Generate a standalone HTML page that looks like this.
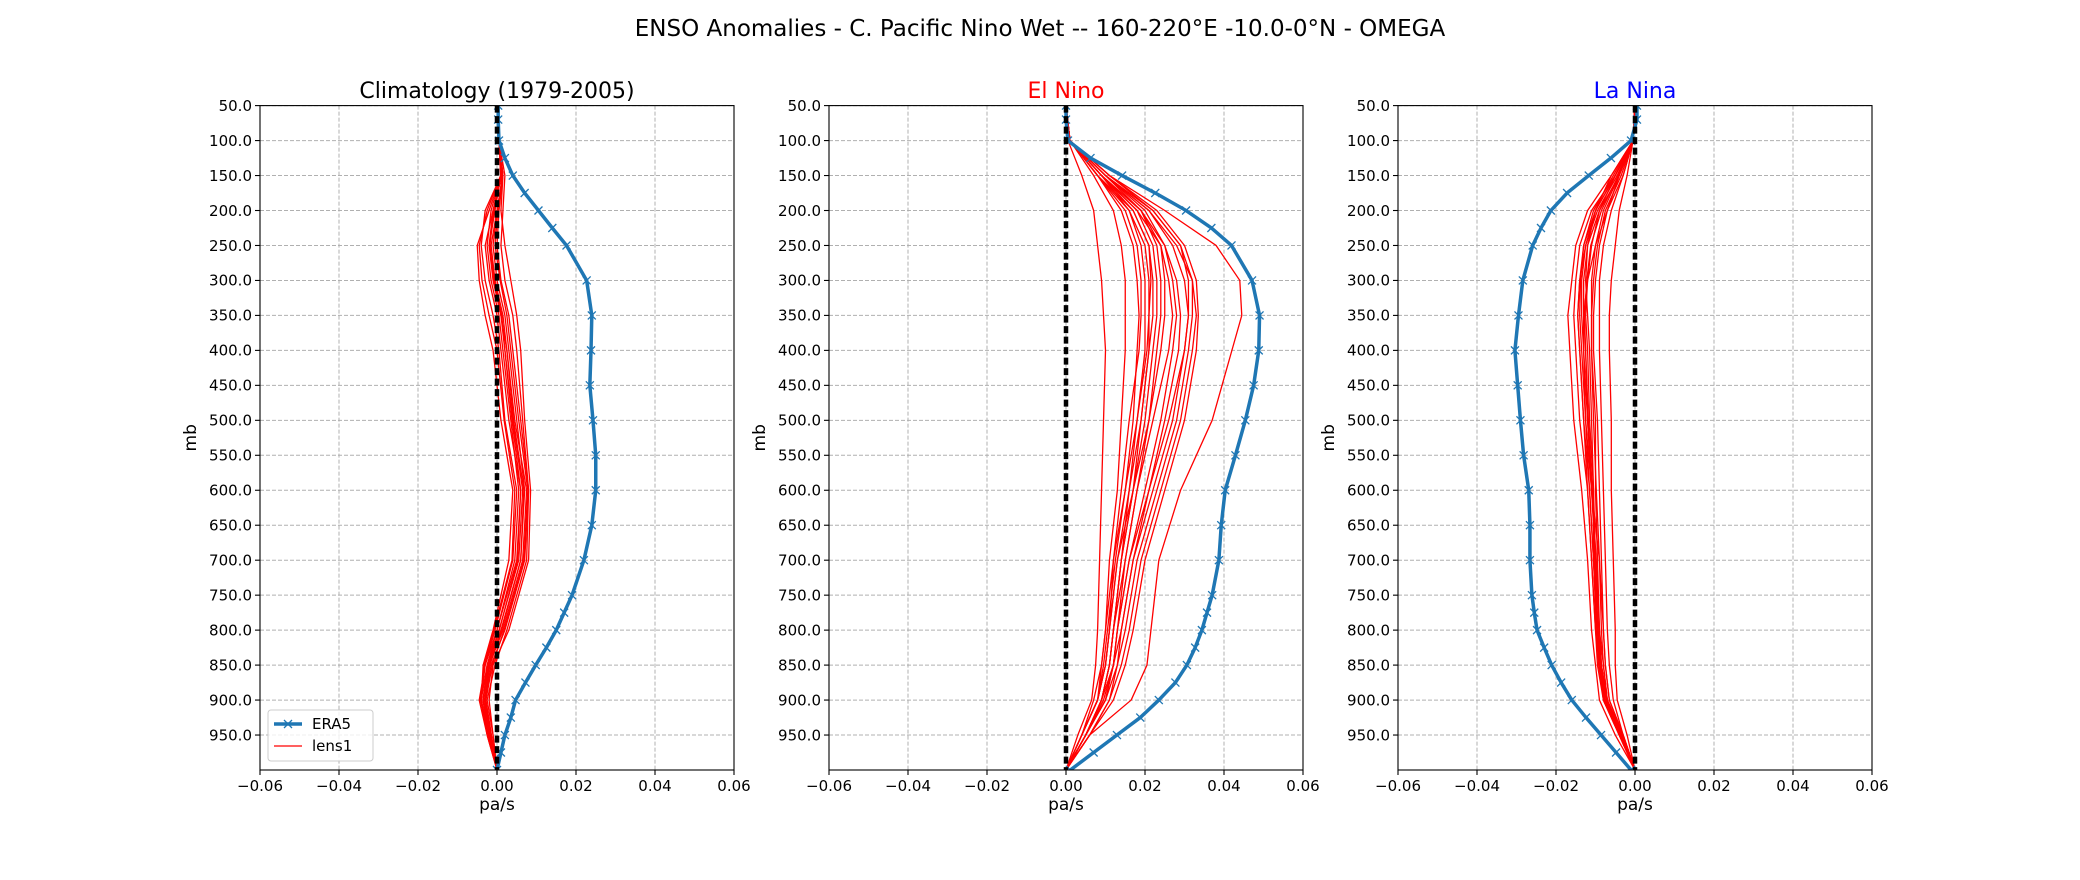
<!DOCTYPE html>
<html><head><meta charset="utf-8"><style>
html,body{margin:0;padding:0;background:#fff;}
svg{display:block;font-family:"DejaVu Sans","Liberation Sans",sans-serif;}
</style></head><body>
<svg id="fig" width="2080" height="880" viewBox="0 0 2080 880" xmlns="http://www.w3.org/2000/svg">
<rect width="2080" height="880" fill="#fff"/>
<text x="1040" y="36" font-size="23" text-anchor="middle" fill="#000">ENSO Anomalies - C. Pacific Nino Wet -- 160-220°E -10.0-0°N - OMEGA</text>
</svg>
<script>
const era5Levels=[50,70,100,125,150,175,200,225,250,300,350,400,450,500,550,600,650,700,750,775,800,825,850,875,900,925,950,975,1000];
const era5Clim=[0.0003,0.0003,0.0005,0.002,0.004,0.007,0.0105,0.014,0.0176,0.0227,0.024,0.0238,0.0235,0.0243,0.025,0.025,0.024,0.022,0.019,0.017,0.015,0.0125,0.0098,0.0072,0.0047,0.0035,0.002,0.001,0];
const era5Nino=[0,0,0.0005,0.0062,0.0142,0.0226,0.0304,0.0368,0.0419,0.0471,0.049,0.0488,0.0475,0.0454,0.0429,0.0403,0.0393,0.0387,0.037,0.0357,0.0344,0.0327,0.0306,0.0277,0.0235,0.0188,0.0129,0.007,0.0011];
const era5Nina=[0.0005,0.0005,-0.001,-0.0061,-0.0117,-0.0172,-0.0213,-0.0238,-0.0259,-0.0284,-0.0295,-0.0304,-0.0297,-0.029,-0.0282,-0.0269,-0.0266,-0.0266,-0.0261,-0.0255,-0.0248,-0.023,-0.0211,-0.0187,-0.016,-0.0124,-0.0086,-0.0048,-0.001];
const lensLevels=[50,100,150,200,250,300,350,400,500,600,700,800,850,900,950,1000];
const lensClim=[
[0,0.0005,0.001,-0.002,-0.005,-0.0045,-0.003,-0.001,0.001,0.004,0.003,-0.001,-0.0035,-0.004,-0.0025,0],
[0,0.0005,0.0015,0.001,0.002,0.0035,0.005,0.006,0.007,0.0085,0.008,0.003,-0.001,-0.002,-0.001,0],
[0,0.0005,0.001,-0.001,-0.003,-0.002,0,0.001,0.003,0.006,0.005,0,-0.003,-0.004,-0.002,0],
[0,0.0005,0.0015,0,-0.001,0,0.002,0.003,0.005,0.007,0.006,0.001,-0.002,-0.003,-0.0015,0],
[0,0.0005,0.001,-0.0005,-0.002,-0.001,0.001,0.002,0.004,0.0065,0.0055,0.0005,-0.0025,-0.0035,-0.002,0],
[0,0.0005,0.0015,0.0005,0,0.001,0.003,0.004,0.006,0.008,0.007,0.002,-0.0015,-0.003,-0.0015,0],
[0,0.0005,0.001,-0.003,-0.004,-0.003,-0.001,0.0005,0.002,0.005,0.004,-0.0005,-0.003,-0.0045,-0.0025,0],
[0,0.0005,0.0015,0,-0.0015,-0.0005,0.0015,0.0025,0.0045,0.0075,0.0065,0.0015,-0.002,-0.0035,-0.002,0],
[0,0.0005,0.001,-0.0015,-0.0025,-0.0015,0.0005,0.0015,0.0035,0.0055,0.0045,0,-0.0025,-0.004,-0.002,0],
[0,0.0005,0.002,0.0015,0.001,0.002,0.004,0.005,0.0065,0.008,0.0075,0.0025,-0.0005,-0.0025,-0.001,0],
[0,0.0005,0.0012,-0.001,-0.002,-0.0005,0.001,0.0025,0.0042,0.0068,0.006,0.0012,-0.0018,-0.0032,-0.0018,0],
[0,0.0005,0.0013,0.0002,-0.0005,0.0008,0.0025,0.0035,0.0055,0.0078,0.0068,0.0018,-0.0012,-0.0028,-0.0014,0],
[0,0.0005,0.0009,-0.0025,-0.0045,-0.0038,-0.002,0,0.0018,0.0045,0.0038,-0.0008,-0.0032,-0.0042,-0.0022,0],
[0,0.0005,0.0011,-0.0008,-0.0018,-0.0008,0.0012,0.002,0.0038,0.006,0.0052,0.0006,-0.0022,-0.0036,-0.0019,0]
];
const lensNino=[
[0,0.0005,0.004,0.007,0.008,0.009,0.0095,0.01,0.0095,0.009,0.0085,0.008,0.0075,0.0065,0.003,0],
[0,0.001,0.011,0.025,0.038,0.044,0.0445,0.042,0.037,0.029,0.0235,0.0215,0.0205,0.0165,0.006,0],
[0,0.001,0.009,0.018,0.024,0.026,0.027,0.026,0.022,0.018,0.015,0.012,0.011,0.009,0.005,0],
[0,0.001,0.010,0.021,0.028,0.032,0.033,0.032,0.029,0.024,0.019,0.016,0.014,0.011,0.006,0],
[0,0.001,0.008,0.014,0.017,0.018,0.0185,0.018,0.017,0.015,0.012,0.010,0.009,0.008,0.004,0],
[0,0.001,0.009,0.017,0.021,0.022,0.022,0.021,0.019,0.016,0.013,0.011,0.010,0.008,0.004,0],
[0,0.001,0.011,0.022,0.029,0.031,0.031,0.030,0.026,0.021,0.017,0.014,0.013,0.010,0.005,0],
[0,0.001,0.007,0.012,0.014,0.015,0.015,0.015,0.014,0.013,0.011,0.010,0.009,0.007,0.004,0],
[0,0.001,0.010,0.019,0.023,0.024,0.024,0.023,0.021,0.018,0.015,0.013,0.012,0.009,0.005,0],
[0,0.001,0.009,0.016,0.019,0.020,0.020,0.020,0.018,0.016,0.014,0.012,0.011,0.009,0.005,0],
[0,0.001,0.011,0.023,0.030,0.033,0.0335,0.033,0.030,0.025,0.020,0.017,0.015,0.012,0.006,0],
[0,0.001,0.008,0.015,0.018,0.019,0.019,0.0185,0.016,0.014,0.012,0.011,0.010,0.008,0.004,0],
[0,0.001,0.010,0.020,0.025,0.027,0.028,0.027,0.024,0.020,0.016,0.013,0.012,0.010,0.005,0],
[0,0.001,0.009,0.018,0.022,0.023,0.023,0.022,0.020,0.017,0.013,0.011,0.010,0.008,0.004,0],
[0,0.001,0.010,0.021,0.027,0.030,0.031,0.030,0.027,0.022,0.017,0.014,0.012,0.010,0.005,0],
[0,0.001,0.008,0.016,0.020,0.021,0.021,0.021,0.019,0.017,0.014,0.012,0.011,0.009,0.005,0],
[0,0.001,0.009,0.019,0.024,0.025,0.025,0.024,0.021,0.017,0.014,0.012,0.011,0.009,0.005,0],
[0,0.001,0.010,0.022,0.029,0.032,0.032,0.031,0.028,0.023,0.018,0.015,0.013,0.011,0.006,0],
[0,0.001,0.008,0.017,0.021,0.0215,0.021,0.0205,0.018,0.015,0.0125,0.0105,0.0095,0.008,0.004,0],
[0,0.001,0.009,0.019,0.025,0.028,0.029,0.0285,0.025,0.021,0.016,0.013,0.012,0.0095,0.005,0]
];
const lensNina=[
[0,-0.0005,-0.006,-0.012,-0.015,-0.016,-0.017,-0.0165,-0.0155,-0.0135,-0.012,-0.011,-0.010,-0.009,-0.005,0],
[0,-0.0005,-0.002,-0.004,-0.005,-0.006,-0.0065,-0.0065,-0.006,-0.006,-0.0055,-0.005,-0.005,-0.0045,-0.002,0],
[0,-0.0005,-0.005,-0.010,-0.013,-0.014,-0.0145,-0.014,-0.013,-0.012,-0.011,-0.010,-0.0095,-0.008,-0.004,0],
[0,-0.0005,-0.004,-0.008,-0.010,-0.011,-0.011,-0.011,-0.010,-0.010,-0.0095,-0.009,-0.0085,-0.007,-0.003,0],
[0,-0.0005,-0.005,-0.009,-0.012,-0.013,-0.013,-0.0125,-0.012,-0.011,-0.010,-0.0095,-0.009,-0.0075,-0.004,0],
[0,-0.0005,-0.003,-0.006,-0.008,-0.009,-0.009,-0.009,-0.0085,-0.008,-0.0075,-0.007,-0.0065,-0.0055,-0.003,0],
[0,-0.0005,-0.004,-0.009,-0.011,-0.012,-0.0125,-0.012,-0.0115,-0.0105,-0.010,-0.009,-0.008,-0.007,-0.0035,0],
[0,-0.0005,-0.005,-0.011,-0.014,-0.015,-0.0155,-0.015,-0.014,-0.012,-0.011,-0.010,-0.009,-0.008,-0.004,0],
[0,-0.0005,-0.004,-0.007,-0.009,-0.010,-0.0105,-0.0105,-0.0095,-0.009,-0.0085,-0.008,-0.0075,-0.0065,-0.003,0],
[0,-0.0005,-0.006,-0.010,-0.012,-0.0125,-0.012,-0.0115,-0.011,-0.0105,-0.0105,-0.0095,-0.009,-0.008,-0.004,0],
[0,-0.0005,-0.003,-0.007,-0.010,-0.012,-0.013,-0.013,-0.012,-0.011,-0.009,-0.008,-0.0075,-0.0065,-0.003,0],
[0,-0.0005,-0.005,-0.010,-0.0125,-0.0135,-0.0135,-0.013,-0.0125,-0.0115,-0.0105,-0.0095,-0.0085,-0.0075,-0.004,0],
[0,-0.0005,-0.0045,-0.0095,-0.0125,-0.014,-0.0145,-0.014,-0.013,-0.0115,-0.0105,-0.0098,-0.0092,-0.0078,-0.0038,0],
[0,-0.0005,-0.0035,-0.0075,-0.0095,-0.0105,-0.011,-0.011,-0.0105,-0.0098,-0.009,-0.0085,-0.008,-0.007,-0.0033,0],
[0,-0.0005,-0.0055,-0.0105,-0.013,-0.0138,-0.014,-0.0135,-0.0125,-0.011,-0.0098,-0.009,-0.0085,-0.0072,-0.0036,0],
[0,-0.0005,-0.0042,-0.0085,-0.0112,-0.0122,-0.0128,-0.0125,-0.0118,-0.0108,-0.0102,-0.0093,-0.0088,-0.0076,-0.0037,0]
];
const xTicks=[-0.06,-0.04,-0.02,0,0.02,0.04,0.06];
const xTickLabels=["\u22120.06","\u22120.04","\u22120.02","0.00","0.02","0.04","0.06"];
const yTicks=[50,100,150,200,250,300,350,400,450,500,550,600,650,700,750,800,850,900,950];
const yTickLabels=["50.0","100.0","150.0","200.0","250.0","300.0","350.0","400.0","450.0","500.0","550.0","600.0","650.0","700.0","750.0","800.0","850.0","900.0","950.0"];
const panelTitles=["Climatology (1979-2005)","El Nino","La Nina"];
const panelTitleColors=["#000","#ff0000","#0000ff"];

const NS="http://www.w3.org/2000/svg";
const svg=document.getElementById('fig');
function mk(tag,attrs,parent){const e=document.createElementNS(NS,tag);for(const k in attrs)e.setAttribute(k,attrs[k]);(parent||svg).appendChild(e);return e;}
const PL=[260,829,1398],PW=474,PT=105.6,PB=770;
function xs(i,v){return PL[i]+(v+0.06)/0.12*PW;}
function ys(p){return PT+(p-50)/950*(PB-PT);}
const eraData=[era5Clim,era5Nino,era5Nina];
const lensData=[lensClim,lensNino,lensNina];
const keys=["climatology","el-nino","la-nina"];
for(let i=0;i<3;i++){
  const g=mk('g',{});
  
  
  const cp=mk('clipPath',{id:'cp'+i},g);
  mk('rect',{x:PL[i],y:PT,width:PW,height:PB-PT},cp);
  xTicks.forEach(function(t){
    const l=mk('line',{x1:xs(i,t),x2:xs(i,t),y1:PT,y2:PB,stroke:'#b0b0b0','stroke-width':1,'stroke-dasharray':'4,2'},g);
    
    
  });
  yTicks.forEach(function(t){
    const l=mk('line',{x1:PL[i],x2:PL[i]+PW,y1:ys(t),y2:ys(t),stroke:'#b0b0b0','stroke-width':1,'stroke-dasharray':'4,2'},g);
    
    
  });
  const pg=mk('g',{'clip-path':'url(#cp'+i+')'},g);
  lensData[i].forEach(function(m,k){
    const pts=m.map(function(v,j){return xs(i,v).toFixed(2)+','+ys(lensLevels[j]).toFixed(2);}).join(' ');
    const l=mk('polyline',{points:pts,fill:'none',stroke:'#ff0000','stroke-width':1.3,'stroke-linejoin':'round'},pg);
    
    
  });
  const e=eraData[i];
  const pts=e.map(function(v,j){return xs(i,v).toFixed(2)+','+ys(era5Levels[j]).toFixed(2);}).join(' ');
  const el=mk('polyline',{points:pts,fill:'none',stroke:'#1f77b4','stroke-width':3.5,'stroke-linejoin':'round'},pg);
  
  
  e.forEach(function(v,j){
    const cx=xs(i,v),cy=ys(era5Levels[j]),r=4;
    const mkr=mk('path',{d:'M'+(cx-r)+','+(cy-r)+'L'+(cx+r)+','+(cy+r)+'M'+(cx-r)+','+(cy+r)+'L'+(cx+r)+','+(cy-r),stroke:'#1f77b4','stroke-width':1.3,fill:'none'},pg);
    
    
  });
  const z=mk('line',{x1:xs(i,0),x2:xs(i,0),y1:ys(50),y2:ys(1000),stroke:'#000','stroke-width':4.5,'stroke-dasharray':'7,3.5'},g);
  
  
  const fr=mk('rect',{x:PL[i],y:PT,width:PW,height:PB-PT,fill:'none',stroke:'#000','stroke-width':1.1},g);
  
  
  xTicks.forEach(function(t,k){
    const x=xs(i,t);
    mk('line',{x1:x,x2:x,y1:PB,y2:PB+5,stroke:'#000','stroke-width':1.1},g);
    const tx=mk('text',{x:x,y:PB+21,'font-size':15,'text-anchor':'middle',fill:'#000'},g);
    
    
    tx.textContent=xTickLabels[k];
  });
  yTicks.forEach(function(t,k){
    const y=ys(t);
    mk('line',{x1:PL[i]-5,x2:PL[i],y1:y,y2:y,stroke:'#000','stroke-width':1.1},g);
    const tx=mk('text',{x:PL[i]-8,y:y+5.3,'font-size':15,'text-anchor':'end',fill:'#000'},g);
    
    
    tx.textContent=yTickLabels[k];
  });
  const xl=mk('text',{x:PL[i]+PW/2,y:810,'font-size':17,'text-anchor':'middle',fill:'#000'},g);
  
  
  xl.textContent='pa/s';
  const yl=mk('text',{x:0,y:0,'font-size':17,'text-anchor':'middle',fill:'#000',transform:'translate('+(PL[i]-64)+','+((PT+PB)/2)+') rotate(-90)'},g);
  
  
  yl.textContent='mb';
  const ti=mk('text',{x:PL[i]+PW/2,y:98,'font-size':22,'text-anchor':'middle',fill:panelTitleColors[i]},g);
  
  
  ti.textContent=panelTitles[i];
}
const lg=mk('g',{});


mk('rect',{x:268,y:710,width:105,height:51,rx:3,fill:'#fff','fill-opacity':0.8,stroke:'#cccccc','stroke-width':1},lg);
mk('line',{x1:274,x2:302,y1:724,y2:724,stroke:'#1f77b4','stroke-width':3.5},lg);
mk('path',{d:'M284,720L292,728M284,728L292,720',stroke:'#1f77b4','stroke-width':1.3},lg);
const t1=mk('text',{x:312,y:729,'font-size':15,fill:'#000'},lg);


t1.textContent='ERA5';
mk('line',{x1:274,x2:302,y1:746,y2:746,stroke:'#ff0000','stroke-width':1.3},lg);
const t2=mk('text',{x:312,y:751,'font-size':15,fill:'#000'},lg);


t2.textContent='lens1';
</script>
</body></html>
